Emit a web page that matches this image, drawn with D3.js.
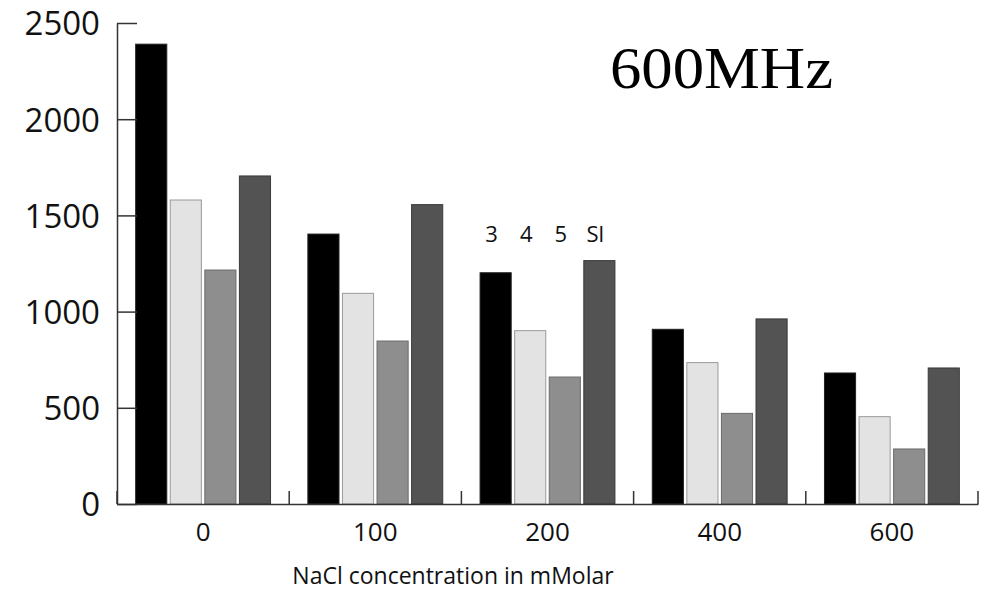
<!DOCTYPE html>
<html>
<head>
<meta charset="utf-8">
<script src="https://cdn.jsdelivr.net/npm/d3@7"></script>
<style>
  body { margin: 0; background: #fff; }
  .axis text { font-family: "Open Sans", sans-serif; fill: #111; }
  .mhz { font-family: "Times New Roman", Times, "Liberation Serif", serif; }
</style>
</head>
<body>
<div class="chart"></div>
<script>
// NaCl concentration groups and the four series (3, 4, 5, Sl)
const categories = ["0", "100", "200", "400", "600"];
const seriesNames = ["3", "4", "5", "Sl"];
const s3 = [2390, 1403, 1202, 908, 681];
const s4 = [1580, 1095, 901, 735, 454];
const s5 = [1216, 847, 660, 471, 286];
const sSl = [1705, 1556, 1265, 962, 707];
const yTicks = [0, 500, 1000, 1500, 2000, 2500];

const colors = ["#000000", "#e3e3e3", "#8e8e8e", "#535353"];
const strokes = ["#222", "#9a9a9a", "#6a6a6a", "#3a3a3a"];

const data = categories.map((c, i) => ({
  cat: c,
  values: [s3[i], s4[i], s5[i], sSl[i]]
}));

const W = 986, H = 590;
const margin = { top: 23, left: 117, right: 8, bottom: 86 };
const width = W - margin.left - margin.right;
const height = H - margin.top - margin.bottom;

const svg = d3.select(".chart")
  .append("svg")
  .attr("width", W)
  .attr("height", H)
  .append("g")
  .attr("transform", `translate(${margin.left}, ${margin.top})`);

const x0 = d3.scaleBand().domain(categories).range([0, width]).padding(0);
const x1 = d3.scaleBand().domain(seriesNames).range([0, x0.bandwidth()])
  .paddingInner(0.1).paddingOuter(0.54);
const y = d3.scaleLinear().domain([0, 2500]).range([height, 0]);

// bars
const groups = svg.selectAll(".group")
  .data(data)
  .enter().append("g")
  .attr("class", "group")
  .attr("transform", d => `translate(${x0(d.cat)},0)`);

groups.selectAll("rect")
  .data(d => d.values.map((v, i) => ({ key: seriesNames[i], v, i })))
  .enter().append("rect")
  .attr("x", d => x1(d.key))
  .attr("width", x1.bandwidth())
  .attr("y", d => y(d.v))
  .attr("height", d => height - y(d.v))
  .attr("fill", d => colors[d.i])
  .attr("stroke", d => strokes[d.i])
  .attr("stroke-width", 1);

// y axis, ticks pointing inward
const yAxis = d3.axisLeft(y).tickValues(yTicks).tickFormat(d3.format("d"))
  .tickSizeInner(-20).tickSizeOuter(0).tickPadding(17);
const ya = svg.append("g").attr("class", "axis y-axis").call(yAxis);
ya.select(".domain").attr("stroke", "#333").attr("stroke-width", 1.5);
ya.selectAll(".tick line").attr("stroke", "#333").attr("stroke-width", 1.5);
ya.selectAll("text").attr("font-size", "33px").attr("dy", "0.36em");

// x axis: labels at group centres, ticks at group boundaries
const xAxis = d3.axisBottom(x0).tickSize(0).tickPadding(19);
const xa = svg.append("g").attr("class", "axis x-axis")
  .attr("transform", `translate(0,${height})`)
  .call(xAxis);
xa.select(".domain").attr("stroke", "#333").attr("stroke-width", 1.5);
xa.selectAll("text").attr("font-size", "26px");

const bounds = categories.map(c => x0(c)).concat([x0(categories[categories.length - 1]) + x0.bandwidth()]);
xa.selectAll(".bound")
  .data(bounds)
  .enter().append("line")
  .attr("class", "bound")
  .attr("x1", d => d).attr("x2", d => d)
  .attr("y1", 0).attr("y2", -13)
  .attr("stroke", "#333").attr("stroke-width", 1.5);

// axis title
svg.append("text")
  .attr("x", 336)
  .attr("y", height + 80)
  .attr("text-anchor", "middle")
  .attr("font-family", "Open Sans, sans-serif")
  .attr("font-size", "23px")
  .attr("fill", "#111")
  .text("NaCl concentration in mMolar");

// series labels above the 200 group
svg.selectAll(".series-label")
  .data(seriesNames)
  .enter().append("text")
  .attr("class", "series-label")
  .attr("x", d => x0("200") + x1(d) + x1.bandwidth() / 2 - 4)
  .attr("y", 219)
  .attr("text-anchor", "middle")
  .attr("font-family", "Open Sans, sans-serif")
  .attr("font-size", "22px")
  .attr("fill", "#111")
  .text(d => d);

// field strength label
svg.append("text")
  .attr("class", "mhz")
  .attr("x", 493)
  .attr("y", 65)
  .attr("font-size", "60px")
  .attr("textLength", 223)
  .attr("lengthAdjust", "spacingAndGlyphs")
  .attr("fill", "#000")
  .text("600MHz");
</script>
</body>
</html>
